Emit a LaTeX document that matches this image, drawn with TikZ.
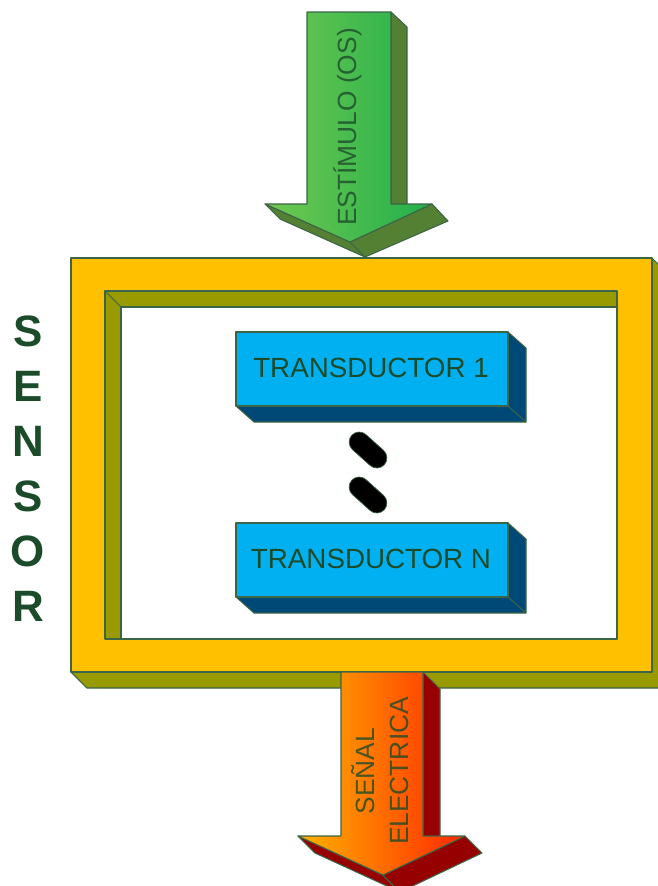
\documentclass[tikz,border=0pt]{standalone}
\usepackage{fontspec}
\setmainfont{Liberation Sans}
\definecolor{frameyellow}{RGB}{255,192,0}
\definecolor{frameolive}{RGB}{153,153,0}
\definecolor{outline}{RGB}{60,100,70}
\definecolor{textgreen}{RGB}{28,75,42}
\definecolor{stimlight}{RGB}{112,200,80}
\definecolor{stimdark}{RGB}{34,176,76}
\definecolor{stimside}{RGB}{84,128,52}
\definecolor{sigleft}{RGB}{255,178,0}
\definecolor{sigright}{RGB}{255,40,0}
\definecolor{sigside}{RGB}{150,0,0}
\definecolor{tdfront}{RGB}{0,176,240}
\definecolor{tdside}{RGB}{0,72,118}
\begin{document}
\begin{tikzpicture}[x=0.02cm, y=-0.02cm, line join=round,
  face/.style={draw=outline, line width=0.6pt},
  sensorletter/.style={font=\fontsize{25}{29}\selectfont\bfseries, text=textgreen},
  tdlabel/.style={font=\fontsize{15.8}{19}\selectfont, text=textgreen},
  arrowlabel/.style={font=\fontsize{15}{19}\selectfont, text=textgreen, text opacity=0.8, rotate=90, align=center},
  capsule/.style={fill=black, draw=outline, rounded corners=5.8pt, minimum width=25pt, minimum height=11.5pt, inner sep=0pt, rotate=-42}]
  \useasboundingbox (0,0) rectangle (658,886);
  \clip (0,0) rectangle (658,886);

  % sensor frame
  \path[face, fill=frameolive] (71,258) -- (652,258) -- (668,274) -- (668,688) -- (87,688) -- (71,672) -- cycle;
  \path[face, fill=frameolive] (105,291) rectangle (617,639);
  \path[face, fill=white] (121,307) rectangle (633,655);
  \draw[face] (105,291) -- (121,307);
  \path[face, fill=frameyellow, even odd rule] (71,258) rectangle (652,672) (105,291) rectangle (617,639);

  \foreach \l [count=\i] in {S,E,N,S,O,R}
    \node[sensorletter] (letter\i) at (28,276+55*\i) {\l};

  % transducers
  \foreach \y/\name/\txt in {332/td1/TRANSDUCTOR 1, 523/tdn/TRANSDUCTOR N} {
    \path[face, fill=tdside] (236,\y) -- (508,\y) -- (526,{\y+16}) -- (526,{\y+90}) -- (254,{\y+90}) -- (236,{\y+74}) -- cycle;
    \draw[face] (508,{\y+74}) -- (526,{\y+90});
    \path[face, fill=tdfront] (236,\y) rectangle (508,{\y+74});
    \node[tdlabel] (\name) at (371,{\y+36}) {\txt};
  }

  \node[capsule] (dot1) at (368,450) {};
  \node[capsule] (dot2) at (368,495) {};

  % stimulus arrow
  \path[face, fill=stimside] (391,12) -- (407,27) -- (407,218) -- (391,203) -- cycle;
  \path[face, fill=stimside] (265,204) -- (280,219) -- (365,257) -- (350,242) -- cycle;
  \path[face, fill=stimside] (432,204) -- (448,221) -- (365,257) -- (350,242) -- cycle;
  \path[face, left color=stimlight, right color=stimdark] (307,12) -- (391,12) -- (391,204) -- (432,204) -- (350,242) -- (265,204) -- (307,204) -- cycle;
  \node[arrowlabel] (stimulus) at (348,127) {ESTÍMULO (OS)};

  % output arrow
  \path[face, fill=sigside] (423,672) -- (440,689) -- (440,853) -- (423,836) -- cycle;
  \path[face, fill=sigside] (298,836) -- (315,853) -- (400,892) -- (383,875) -- cycle;
  \path[face, fill=sigside] (465,836) -- (482,853) -- (400,892) -- (383,875) -- cycle;
  \path[face, left color=sigleft, right color=sigright] (341,672) -- (423,672) -- (423,836) -- (465,836) -- (383,875) -- (298,836) -- (341,836) -- cycle;
  \node[arrowlabel] (signal) at (380,771) {SEÑAL\\ELECTRICA};
\end{tikzpicture}
\end{document}
